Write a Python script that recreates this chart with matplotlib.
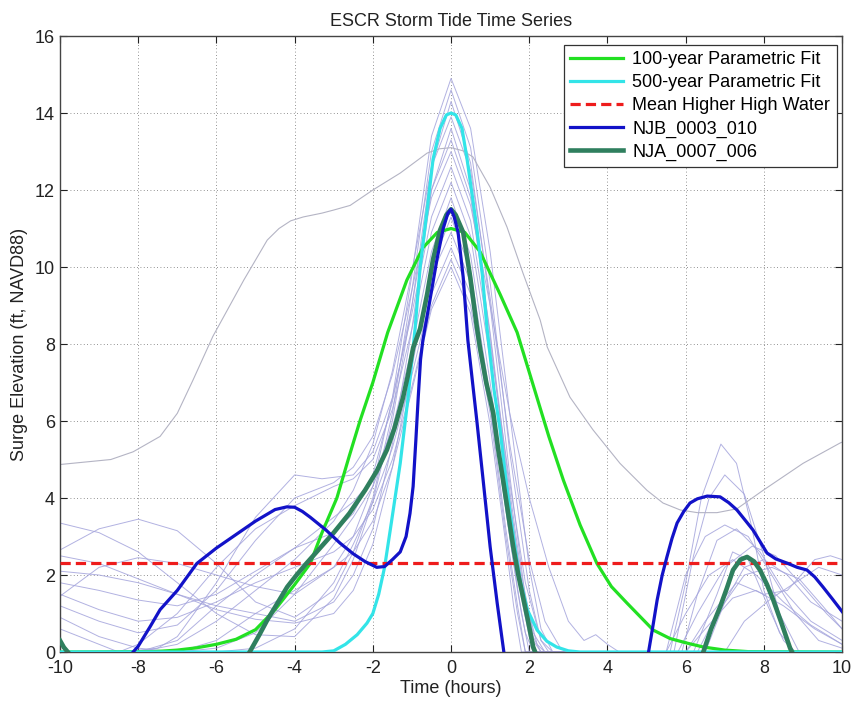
import numpy as np
import matplotlib
matplotlib.use('Agg')
import matplotlib.pyplot as plt

plt.rcParams['font.family'] = ['Liberation Sans', 'DejaVu Sans']
plt.rcParams['axes.unicode_minus'] = False

# ---- data ----
fit100 = [(-10, 0), (-7.6, 0.01), (-7.0, 0.05), (-6.5, 0.11), (-6.0, 0.2), (-5.5, 0.33), (-5.0, 0.58),
          (-4.5, 1.1), (-4.0, 1.75), (-3.6, 2.3), (-3.3, 3.1), (-2.92, 4.0), (-2.6, 5.1), (-2.33, 6.0),
          (-2.0, 7.0), (-1.62, 8.3), (-1.13, 9.66), (-0.72, 10.5), (-0.35, 10.9), (0, 11.0),
          (0.35, 10.9), (0.74, 10.4), (1.25, 9.3), (1.69, 8.3), (2.2, 6.6), (2.5, 5.6), (2.87, 4.47),
          (3.3, 3.3), (3.73, 2.3), (4.1, 1.7), (4.5, 1.27), (5.17, 0.57), (5.6, 0.35), (6.04, 0.23),
          (6.45, 0.13), (7.0, 0.05), (7.6, 0.01), (10, 0)]

fit500 = [(-10, 0), (-3.3, 0), (-3.0, 0.03), (-2.7, 0.2), (-2.4, 0.45), (-2.15, 0.75), (-2.0, 1.0),
          (-1.85, 1.5), (-1.7, 2.2), (-1.55, 3.2), (-1.3, 4.9), (-1.1, 6.6), (-0.92, 8.4), (-0.79, 10.0),
          (-0.61, 11.5), (-0.46, 12.8), (-0.28, 13.6), (-0.12, 13.95), (0, 14.0), (0.12, 13.95),
          (0.28, 13.6), (0.41, 12.8), (0.55, 11.8), (0.66, 11.0), (0.8, 9.8), (0.92, 8.4), (1.1, 6.8),
          (1.25, 5.8), (1.4, 4.5), (1.51, 3.6), (1.65, 2.6), (1.76, 1.9), (1.95, 1.1), (2.2, 0.57),
          (2.45, 0.28), (2.7, 0.13), (3.0, 0.03), (3.3, 0), (10, 0)]

mhhw_level = 2.3

njb_0003_010 = [(-8.13, 0), (-8.0, 0.15), (-7.7, 0.65), (-7.44, 1.1), (-7.0, 1.6), (-6.5, 2.3), (-6.0, 2.7),
                (-5.5, 3.05), (-5.0, 3.4), (-4.5, 3.7), (-4.2, 3.77), (-4.0, 3.76), (-3.8, 3.65), (-3.6, 3.5),
                (-3.2, 3.17), (-2.84, 2.83), (-2.5, 2.55), (-2.2, 2.35), (-1.9, 2.2), (-1.7, 2.22),
                (-1.5, 2.4), (-1.3, 2.6), (-1.15, 3.0), (-1.05, 3.6), (-0.97, 4.3), (-0.9, 5.5),
                (-0.84, 6.6), (-0.78, 7.6), (-0.72, 8.1), (-0.54, 9.14), (-0.36, 10.2), (-0.2, 11.0),
                (-0.08, 11.4), (0, 11.5), (0.08, 11.3), (0.18, 10.9), (0.31, 9.74), (0.43, 8.1),
                (0.55, 7.0), (0.66, 6.0), (0.82, 4.47), (1.0, 2.73), (1.18, 1.27), (1.35, 0),
                (np.nan, np.nan),
                (5.05, 0), (5.15, 0.6), (5.27, 1.35), (5.4, 2.0), (5.52, 2.47), (5.65, 2.95), (5.78, 3.35),
                (5.95, 3.65), (6.11, 3.87), (6.3, 3.98), (6.55, 4.05), (6.88, 4.03), (7.1, 3.88),
                (7.31, 3.69), (7.5, 3.45), (7.72, 3.17), (7.9, 2.87), (8.08, 2.57), (8.3, 2.42),
                (8.59, 2.31), (8.85, 2.2), (9.1, 2.13), (9.3, 1.95), (9.51, 1.69), (9.75, 1.38), (10, 1.05)]

nja_0007_006 = [(-10, 0.3), (-9.9, 0.12), (-9.8, 0), (np.nan, np.nan),
                (-5.15, 0), (-4.9, 0.45), (-4.7, 0.83), (-4.45, 1.25), (-4.19, 1.69), (-3.95, 2.0),
                (-3.7, 2.3), (-3.35, 2.7), (-3.0, 3.1), (-2.6, 3.6), (-2.2, 4.2), (-1.9, 4.7),
                (-1.64, 5.25), (-1.45, 5.8), (-1.23, 6.6), (-1.1, 7.2), (-0.97, 7.9), (-0.79, 8.4),
                (-0.61, 9.3), (-0.46, 10.2), (-0.28, 10.96), (-0.12, 11.35), (0, 11.5), (0.12, 11.35),
                (0.31, 10.9), (0.49, 9.74), (0.66, 8.44), (0.74, 7.9), (0.9, 7.0), (1.08, 6.2),
                (1.2, 5.3), (1.33, 4.47), (1.46, 3.6), (1.59, 2.73), (1.72, 2.0), (1.84, 1.43),
                (1.97, 0.8), (2.1, 0.13), (2.15, 0), (np.nan, np.nan),
                (6.45, 0), (6.65, 0.6), (6.88, 1.17), (7.05, 1.65), (7.21, 2.13), (7.4, 2.4),
                (7.57, 2.47), (7.75, 2.35), (7.9, 2.13), (8.08, 1.75), (8.24, 1.35), (8.45, 0.75),
                (8.67, 0.1), (8.72, 0)]

# other storms (thin background lines)
run_gray = [(-10, 4.87), (-9.4, 4.93), (-8.7, 5.0), (-8.13, 5.2), (-7.44, 5.6), (-7.0, 6.2), (-6.6, 7.06),
            (-6.09, 8.2), (-5.9, 8.55), (-5.3, 9.66), (-4.7, 10.7), (-4.4, 11.0), (-4.1, 11.2),
            (-3.78, 11.3), (-3.3, 11.4), (-3.0, 11.48), (-2.58, 11.6), (-2.0, 12.0), (-1.3, 12.44),
            (-0.61, 12.96), (-0.3, 13.07), (0, 13.1), (0.3, 13.02), (0.56, 12.86), (1.0, 12.07),
            (1.43, 11.04), (1.84, 9.84), (2.28, 8.62), (2.46, 7.92), (3.04, 6.62), (3.63, 5.77),
            (4.32, 4.9), (5.01, 4.2), (5.42, 3.87), (5.86, 3.69), (6.3, 3.62), (6.8, 3.62), (7.31, 3.72),
            (7.98, 4.2), (9.0, 4.9), (9.95, 5.43), (10, 5.45)]

run_a = [(-10, 1.45), (-9, 2.2), (-8, 2.45), (-7, 2.3), (-6, 2.0), (-5, 1.7), (-4, 1.5), (-3, 2.2),
         (-2.5, 3.0), (-2, 4.3), (-1.5, 6.6), (-1, 9.8), (-0.5, 13.4), (0, 14.9), (0.5, 13.6), (1, 10.4),
         (1.5, 6.2), (2, 2.2), (2.3, 0.6), (2.6, 0), (5.6, 0), (6.0, 1.8), (6.4, 4.0), (6.9, 5.4),
         (7.3, 4.9), (7.7, 3.2), (8.0, 1.6), (8.4, 0.5), (8.8, 0), (10, 0)]
run_b = [(-10, 2.65), (-9, 3.2), (-8, 3.45), (-7, 3.15), (-6, 2.3), (-5, 1.3), (-4, 0.9), (-3, 1.6),
         (-2.5, 2.6), (-2, 4.0), (-1.5, 6.2), (-1, 9.4), (-0.5, 13.0), (0, 14.6), (0.5, 13.1), (1, 9.6),
         (1.5, 5.2), (2, 1.6), (2.3, 0.3), (2.5, 0), (5.7, 0), (6.2, 2.5), (6.6, 4.0), (7.0, 4.6),
         (7.5, 4.1), (8.0, 2.5), (8.4, 1.0), (8.9, 0), (10, 0)]
run_c = [(-10, 3.35), (-9, 3.1), (-8, 2.6), (-7, 1.8), (-6, 1.0), (-5, 0.45), (-4, 0.4), (-3, 1.4),
         (-2.5, 2.4), (-2, 3.9), (-1.5, 6.0), (-1, 9.0), (-0.5, 12.6), (0, 14.3), (0.5, 12.7), (1, 9.0),
         (1.5, 4.6), (1.9, 1.4), (2.2, 0.2), (2.4, 0), (5.5, 0), (6.0, 2.0), (6.5, 3.0), (7.0, 3.3),
         (7.6, 3.0), (8.2, 2.0), (8.8, 1.0), (9.4, 0.3), (10, 0.1)]
run_d = [(-10, 2.1), (-9, 2.0), (-8, 1.8), (-7, 1.5), (-6, 1.2), (-5, 1.0), (-4, 0.8), (-3, 1.3),
         (-2.5, 2.0), (-2, 3.2), (-1.5, 5.4), (-1, 8.4), (-0.5, 12.0), (0, 13.6), (0.5, 12.0), (1, 8.2),
         (1.5, 4.0), (1.8, 1.8), (2.1, 0.3), (2.3, 0), (5.8, 0), (6.3, 1.0), (7.0, 2.2), (7.7, 2.75),
         (8.3, 2.5), (9.0, 1.7), (9.6, 1.0), (10, 0.6)]
run_e = [(-10, 1.8), (-9, 1.6), (-8, 1.35), (-7, 1.2), (-6, 1.5), (-5, 2.1), (-4, 2.7), (-3, 3.1),
         (-2.5, 3.6), (-2, 4.6), (-1.5, 6.5), (-1, 9.0), (-0.5, 12.0), (0, 13.3), (0.5, 11.8), (1, 8.3),
         (1.5, 4.2), (1.8, 2.0), (2.1, 0.5), (2.4, 0), (6.0, 0), (6.5, 0.8), (7.3, 1.8), (8.0, 1.5),
         (8.6, 1.6), (9.3, 2.4), (9.7, 2.5), (10, 2.4)]
run_f = [(-10, 1.2), (-9, 0.8), (-8, 0.5), (-7, 0.7), (-6, 1.6), (-5, 2.9), (-4, 4.0), (-3, 4.4),
         (-2.5, 4.8), (-2, 5.6), (-1.5, 7.2), (-1, 9.4), (-0.5, 11.8), (0, 13.0), (0.5, 11.6), (1, 9.0),
         (1.5, 6.2), (2, 4.0), (2.5, 2.2), (3.0, 0.8), (3.4, 0.3), (3.7, 0.45), (4.0, 0.2), (4.3, 0),
         (6.2, 0), (6.8, 1.5), (7.2, 2.6), (7.6, 2.4), (8.1, 1.2), (8.5, 0.3), (8.8, 0), (10, 0)]
run_g = [(-10, 0.6), (-9, 0.2), (-8.5, 0), (-7.5, 0.1), (-7, 0.4), (-6, 1.8), (-5, 3.5), (-4, 4.6),
         (-3.3, 4.5), (-2.5, 4.6), (-2, 5.2), (-1.5, 6.6), (-1, 8.8), (-0.5, 11.3), (0, 12.6),
         (0.5, 11.2), (1, 8.0), (1.5, 4.4), (1.9, 1.8), (2.3, 0.3), (2.6, 0), (5.9, 0), (6.3, 1.5),
         (6.8, 2.9), (7.3, 3.2), (7.9, 2.6), (8.5, 1.6), (9.2, 0.8), (10, 0.3)]
run_h = [(-10, 0), (-8.5, 0), (-8, 0.2), (-7, 1.0), (-6, 2.2), (-5, 3.2), (-4, 3.8), (-3, 4.3),
         (-2.5, 4.5), (-2, 5.0), (-1.5, 6.3), (-1, 8.4), (-0.5, 10.9), (0, 12.2), (0.5, 10.8), (1, 7.6),
         (1.5, 3.9), (1.8, 1.8), (2.1, 0.4), (2.3, 0), (5.5, 0), (6.0, 1.0), (6.6, 2.0), (7.2, 2.4),
         (7.8, 2.0), (8.5, 1.3), (9.2, 0.7), (10, 0.2)]
run_i = [(-10, 0), (-8, 0), (-7, 0.3), (-6, 1.2), (-5, 2.0), (-4, 2.7), (-3, 3.5), (-2.5, 3.9),
         (-2, 4.5), (-1.5, 5.8), (-1, 7.9), (-0.5, 10.4), (0, 11.8), (0.5, 10.3), (1, 7.0), (1.5, 3.3),
         (1.8, 1.4), (2.0, 0.4), (2.2, 0), (6.3, 0), (6.8, 1.0), (7.5, 2.0), (8.2, 2.2), (8.9, 1.9),
         (9.5, 1.2), (10, 0.6)]
run_j = [(-10, 2.5), (-9, 2.3), (-8, 1.9), (-7, 1.5), (-6, 1.1), (-5, 0.85), (-4, 0.75), (-3, 1.0),
         (-2.5, 1.6), (-2, 2.8), (-1.5, 4.8), (-1, 7.4), (-0.5, 10.0), (0, 11.3), (0.5, 9.9), (1, 6.6),
         (1.5, 3.0), (1.7, 1.6), (1.9, 0.5), (2.1, 0), (6.5, 0), (7.0, 1.3), (7.5, 2.2), (8.0, 2.4),
         (8.6, 2.0), (9.2, 1.3), (10, 0.8)]
run_k = [(-10, 0.9), (-9, 0.4), (-8, 0.1), (-7, 0), (-6, 0.1), (-5, 0.5), (-4, 1.5), (-3, 2.8),
         (-2.5, 3.5), (-2, 4.3), (-1.5, 5.6), (-1, 7.6), (-0.5, 9.8), (0, 10.9), (0.5, 9.6), (1, 6.5),
         (1.5, 3.0), (1.8, 1.0), (2.0, 0), (7.0, 0), (7.5, 0.8), (8.2, 1.4), (8.8, 1.8), (9.4, 2.2),
         (10, 2.0)]
run_l = [(-10, 0), (-6, 0), (-5, 0.1), (-4, 0.6), (-3, 1.8), (-2.5, 2.8), (-2, 3.9), (-1.5, 5.3),
         (-1, 7.2), (-0.5, 9.3), (0, 10.5), (0.5, 9.3), (1, 6.4), (1.4, 3.2), (1.7, 1.2), (1.9, 0),
         (6.0, 0), (6.5, 0.6), (7.2, 1.4), (7.8, 1.6), (8.5, 1.2), (9.3, 0.6), (10, 0.2)]
run_m = [(-10, 1.5), (-9, 1.1), (-8, 0.8), (-7, 0.9), (-6, 1.3), (-5, 1.8), (-4, 2.2), (-3, 2.6),
         (-2.5, 3.0), (-2, 3.7), (-1.5, 5.0), (-1, 6.9), (-0.5, 9.0), (0, 10.2), (0.5, 9.0), (1, 6.2),
         (1.4, 3.0), (1.7, 1.0), (1.9, 0), (10, 0)]
run_n = [(-10, 0), (-7, 0), (-6, 0.3), (-5, 1.0), (-4, 1.6), (-3, 2.2), (-2.5, 2.6), (-2, 3.4),
         (-1.5, 4.8), (-1, 6.8), (-0.5, 8.9), (0, 10.0), (0.5, 8.8), (1, 5.9), (1.4, 2.8), (1.6, 1.2),
         (1.8, 0), (10, 0)]
run_o = [(-10, 0), (-8, 0), (-7, 0.2), (-6, 0.8), (-5, 1.6), (-4, 2.4), (-3, 3.4), (-2.5, 4.2),
         (-2, 5.4), (-1.5, 7.3), (-1, 9.9), (-0.5, 12.6), (0, 13.9), (0.5, 12.5), (1, 9.2), (1.5, 5.4),
         (2, 2.4), (2.4, 0.8), (2.8, 0.1), (3.0, 0), (10, 0)]

thin_runs = [run_a, run_b, run_c, run_d, run_e, run_f, run_g, run_h, run_i,
             run_j, run_k, run_l, run_m, run_n, run_o]

x_ticks = [-10, -8, -6, -4, -2, 0, 2, 4, 6, 8, 10]
y_ticks = [0, 2, 4, 6, 8, 10, 12, 14, 16]


def xy(pts):
    a = np.array(pts, dtype=float)
    return a[:, 0], a[:, 1]


fig = plt.figure(figsize=(8.52, 7.02), dpi=100)
ax = fig.add_axes([0.0704, 0.0712, 0.918, 0.8775])

for r in thin_runs:
    ax.plot(*xy(r), color='#a4a4dc', lw=0.7, alpha=0.85, zorder=2)
ax.plot(*xy(run_gray), color='#b4b4c4', lw=0.8, zorder=2)

l100, = ax.plot(*xy(fit100), color='#22e022', lw=2.3, zorder=3)
l500, = ax.plot(*xy(fit500), color='#33e4e8', lw=2.3, zorder=3)
lmh = ax.axhline(mhhw_level, color='#ee1c1c', lw=2.3, dashes=(3.2, 1.6), zorder=4)
lja, = ax.plot(*xy(nja_0007_006), color='#2f7f5e', lw=3.3, zorder=5)
ljb, = ax.plot(*xy(njb_0003_010), color='#1212c8', lw=2.3, zorder=6)

ax.set_xlim(-10, 10)
ax.set_ylim(0, 16)
ax.set_xticks(x_ticks)
ax.set_yticks(y_ticks)
ax.grid(True, color='#707070', linestyle=(0, (1, 3)), lw=0.6)
ax.tick_params(direction='in', top=True, right=True, length=5, width=0.8,
               labelsize=13, colors='#222222')
ax.tick_params(axis='x', pad=6)
for s in ax.spines.values():
    s.set_color('#444444')
    s.set_linewidth(1.0)

ax.set_title('ESCR Storm Tide Time Series', fontsize=13, color='#222222', pad=7)
ax.set_xlabel('Time (hours)', fontsize=13, color='#222222', labelpad=2)
ax.set_ylabel('Surge Elevation (ft, NAVD88)', fontsize=13, color='#222222', labelpad=5)

leg = ax.legend([l100, l500, lmh, ljb, lja],
                ['100-year Parametric Fit', '500-year Parametric Fit', 'Mean Higher High Water',
                 'NJB_0003_010', 'NJA_0007_006'],
                loc='upper right', bbox_to_anchor=(0.993, 0.986), fontsize=13,
                fancybox=False, framealpha=1, edgecolor='#333333', borderpad=0.35,
                labelspacing=0.34, handlelength=2.95, handletextpad=0.5, borderaxespad=0)
leg.get_frame().set_linewidth(0.9)

fig.savefig('out.png', dpi=100)
